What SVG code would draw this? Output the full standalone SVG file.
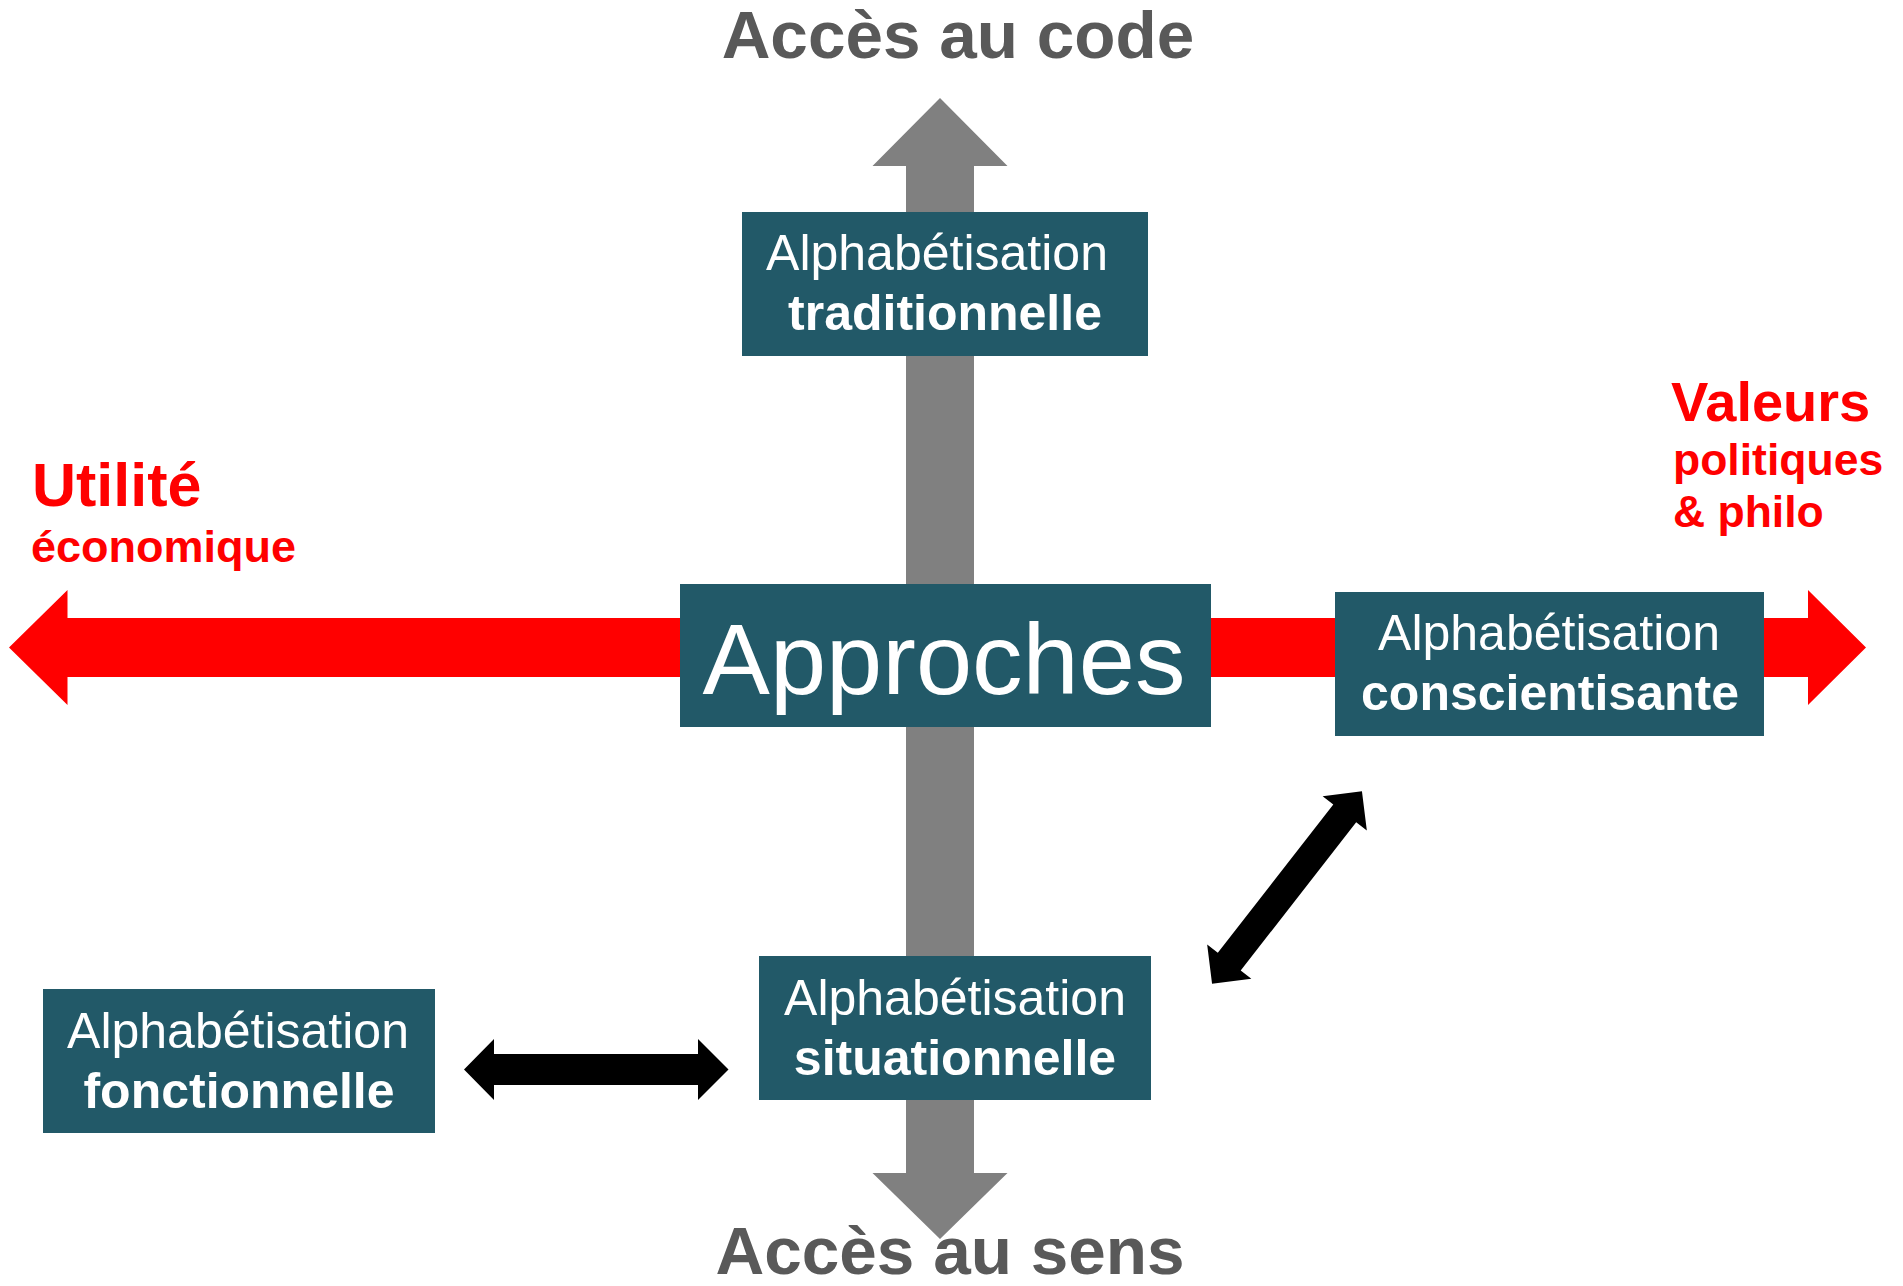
<svg xmlns="http://www.w3.org/2000/svg" width="1903" height="1286" viewBox="0 0 1903 1286">
<style>
.box{fill:#225968}
.t{font-family:"Liberation Sans",Arial,sans-serif;fill:#ffffff;text-anchor:middle}
.b{font-weight:bold}
.axis{font-family:"Liberation Sans",Arial,sans-serif;font-weight:bold;fill:#595959;font-size:67.5px;text-anchor:middle}
.red{font-family:"Liberation Sans",Arial,sans-serif;font-weight:bold;fill:#ff0000}
</style>
<rect width="1903" height="1286" fill="#ffffff"/>
<g id="connectors">
  <path id="axis-vertical" fill="#808080" d="M940,98 L1007.5,166 L974,166 L974,1173 L1007.5,1173 L940,1239 L872.5,1173 L906,1173 L906,166 L872.5,166 Z"/>
  <path id="axis-horizontal" fill="#ff0000" d="M9,647.5 L67.5,590 L67.5,618 L1808,618 L1808,590 L1866,647.5 L1808,705 L1808,677 L67.5,677 L67.5,705 Z"/>
  <path id="link-fonct-situ" fill="#000000" d="M464,1069.5 L494,1039 L494,1054 L698,1054 L698,1039 L728.5,1069.5 L698,1100 L698,1085 L494,1085 L494,1100 Z"/>
  <path id="link-situ-consc" fill="#000000" transform="translate(1287,887.5) rotate(-52.1)" d="M-122,0 L-94,-28 L-94,-14.5 L94,-14.5 L94,-28 L122,0 L94,28 L94,14.5 L-94,14.5 L-94,28 Z"/>
</g>
<g id="label-code"><text class="axis" x="958" y="58">Accès au code</text></g>
<g id="label-sens"><text class="axis" x="950" y="1274">Accès au sens</text></g>
<g id="label-utilite">
  <text class="red" x="32" y="506" font-size="61">Utilité</text>
  <text class="red" x="31" y="562" font-size="45">économique</text>
</g>
<g id="label-valeurs">
  <text class="red" x="1671" y="421" font-size="56">Valeurs</text>
  <text class="red" x="1673" y="475" font-size="44.5">politiques</text>
  <text class="red" x="1673" y="527" font-size="44.5">&amp; philo</text>
</g>
<g id="node-traditionnelle">
  <rect class="box" x="742" y="212" width="406" height="144"/>
  <text class="t" x="937" y="270" font-size="50">Alphabétisation</text>
  <text class="t b" x="945" y="330" font-size="50">traditionnelle</text>
</g>
<g id="node-approches">
  <rect class="box" x="680" y="584" width="531" height="143"/>
  <text class="t" x="944" y="694" font-size="101">Approches</text>
</g>
<g id="node-conscientisante">
  <rect class="box" x="1335" y="592" width="429" height="144"/>
  <text class="t" x="1549" y="650" font-size="50">Alphabétisation</text>
  <text class="t b" x="1550" y="710" font-size="50">conscientisante</text>
</g>
<g id="node-situationnelle">
  <rect class="box" x="759" y="956" width="392" height="144"/>
  <text class="t" x="955" y="1015" font-size="50">Alphabétisation</text>
  <text class="t b" x="955" y="1075" font-size="50">situationnelle</text>
</g>
<g id="node-fonctionnelle">
  <rect class="box" x="43" y="989" width="392" height="144"/>
  <text class="t" x="238" y="1048" font-size="50">Alphabétisation</text>
  <text class="t b" x="239" y="1108" font-size="50">fonctionnelle</text>
</g>
</svg>
